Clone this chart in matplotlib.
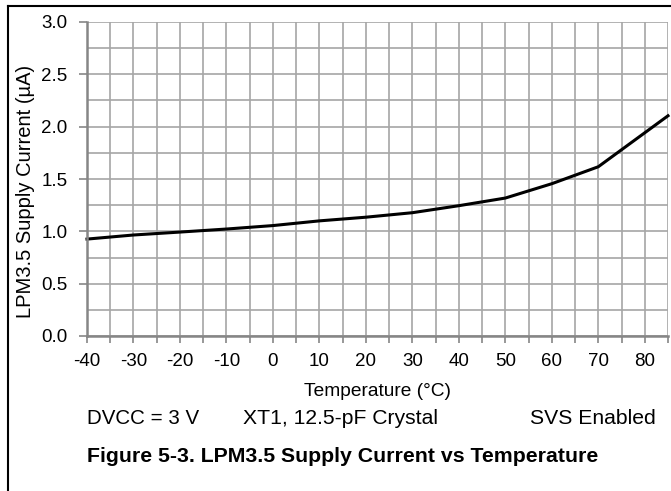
import matplotlib
matplotlib.use("Agg")
import matplotlib.pyplot as plt
from matplotlib.lines import Line2D
import numpy as np

temperature = [-40, -30, -20, -10, 0, 10, 20, 30, 40, 50, 60, 70, 85]
current = [0.926, 0.965, 0.993, 1.022, 1.055, 1.10, 1.135, 1.178, 1.245, 1.318, 1.455, 1.617, 2.104]

xticks = [-40, -30, -20, -10, 0, 10, 20, 30, 40, 50, 60, 70, 80]
yticks = [0.0, 0.5, 1.0, 1.5, 2.0, 2.5, 3.0]

plt.rcParams['font.family'] = ['Liberation Sans', 'DejaVu Sans']

W, H = 671, 491
fig = plt.figure(figsize=(W / 100, H / 100), dpi=100)

ax = fig.add_axes([87 / W, 1 - 336 / H, 581 / W, 314 / H])
ax.set_xlim(-40, 85)
ax.set_ylim(0, 3.0)

ax.set_xticks(xticks)
ax.set_xticklabels([str(t) for t in xticks])
ax.set_xticks(np.arange(-35, 86, 10), minor=True)
ax.set_yticks(yticks)
ax.set_yticklabels([f"{t:.1f}" for t in yticks])
ax.set_yticks(np.arange(0.25, 3.0, 0.5), minor=True)

grid_c = '#a6a6a6'
ax.grid(True, which='both', color=grid_c, linewidth=1.2)
ax.set_axisbelow(True)
for s in ['top', 'right']:
    ax.spines[s].set_visible(False)
for s in ['left', 'bottom']:
    ax.spines[s].set_color('#868686')
    ax.spines[s].set_linewidth(1.8)

ax.tick_params(axis='x', which='both', direction='out', length=5, width=1.2, color='#868686',
               labelsize=13.5, pad=7)
ax.tick_params(axis='x', which='minor', labelbottom=False)
ax.tick_params(axis='y', which='major', direction='out', length=6, width=1.2, color='#868686',
               labelsize=13.5, pad=8)
ax.tick_params(axis='y', which='minor', length=0)

ax.plot(temperature, current, color='black', linewidth=2.2, solid_joinstyle='miter', clip_on=False)

fig.text(26 / W, 1 - 191 / H, 'LPM3.5 Supply Current (µA)', rotation=90, ha='center', va='center',
         fontsize=14.5)
fig.text(378 / W, 1 - 392 / H, 'Temperature (°C)', ha='center', va='center', fontsize=13.8)
fig.text(87 / W, 1 - 418 / H, 'DVCC = 3 V', ha='left', va='center', fontsize=14.8)
fig.text(243 / W, 1 - 418 / H, 'XT1, 12.5-pF Crystal', ha='left', va='center', fontsize=15.2)
fig.text(656 / W, 1 - 418 / H, 'SVS Enabled', ha='right', va='center', fontsize=15.2)
fig.text(87 / W, 1 - 457 / H, 'Figure 5-3. LPM3.5 Supply Current vs Temperature', ha='left',
         va='center', fontsize=15.3, fontweight='bold')

fig.add_artist(Line2D([8 / W, 8 / W], [0, 1 - 6 / H], color='black', linewidth=1.5,
                      transform=fig.transFigure))
fig.add_artist(Line2D([8 / W, 1], [1 - 6 / H, 1 - 6 / H], color='black', linewidth=1.5,
                      transform=fig.transFigure))

fig.savefig('out.png', dpi=100)
